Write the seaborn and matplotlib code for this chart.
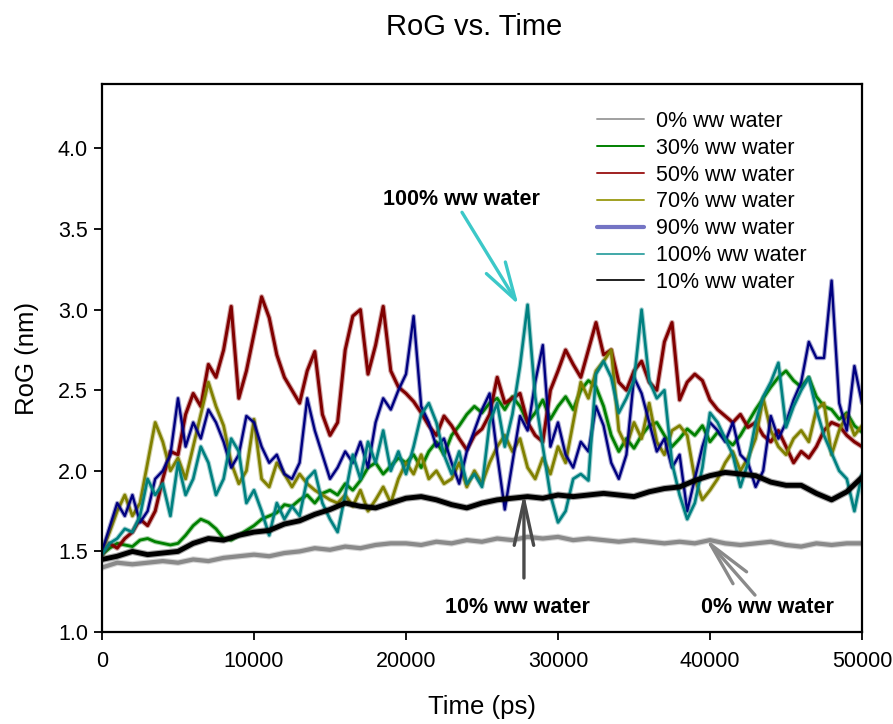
import matplotlib
matplotlib.use("Agg")
import matplotlib.pyplot as plt
import matplotlib.patheffects as pe
from matplotlib.lines import Line2D
import seaborn as sns

# Simulation time axes (ps)
time_fine = list(range(0, 50001, 500))
time_coarse = list(range(0, 50001, 1000))

# Radius of gyration (nm) for each water content
rog_0 = [1.40, 1.43, 1.42, 1.43, 1.44, 1.43, 1.45, 1.44, 1.46, 1.47,
         1.48, 1.47, 1.49, 1.50, 1.52, 1.51, 1.53, 1.52, 1.54, 1.55,
         1.55, 1.54, 1.56, 1.55, 1.57, 1.56, 1.58, 1.57, 1.59, 1.58,
         1.59, 1.57, 1.58, 1.57, 1.56, 1.57, 1.56, 1.55, 1.56, 1.55,
         1.57, 1.55, 1.54, 1.55, 1.56, 1.54, 1.53, 1.55, 1.54, 1.55,
         1.55]

rog_10 = [1.45, 1.47, 1.50, 1.48, 1.49, 1.50, 1.55, 1.58, 1.57, 1.60,
          1.62, 1.63, 1.67, 1.69, 1.73, 1.76, 1.80, 1.78, 1.77, 1.80,
          1.83, 1.84, 1.82, 1.79, 1.77, 1.80, 1.82, 1.83, 1.84, 1.83,
          1.85, 1.84, 1.85, 1.86, 1.85, 1.84, 1.87, 1.89, 1.90, 1.94,
          1.97, 1.99, 1.98, 1.97, 1.93, 1.91, 1.91, 1.86, 1.82, 1.87,
          1.96]

rog_30 = [1.48, 1.52, 1.55, 1.54, 1.53, 1.57, 1.58, 1.56, 1.55, 1.54,
          1.55, 1.60, 1.66, 1.70, 1.68, 1.64, 1.58, 1.57, 1.60, 1.63,
          1.66, 1.70, 1.72, 1.74, 1.79, 1.78, 1.82, 1.85, 1.80, 1.86,
          1.88, 1.85, 1.92, 1.88, 1.94, 2.02, 2.05, 1.98, 2.03, 2.08,
          2.05, 2.10, 2.02, 2.12, 2.18, 2.10, 2.22, 2.28, 2.35, 2.40,
          2.36, 2.42, 2.45, 2.38, 2.46, 2.40, 2.30, 2.36, 2.44, 2.32,
          2.40, 2.46, 2.38, 2.50, 2.56, 2.52, 2.40, 2.22, 2.12, 2.20,
          2.14, 2.22, 2.28, 2.30, 2.22, 2.15, 2.20, 2.26, 2.22, 2.28,
          2.18, 2.24, 2.20, 2.16, 2.22, 2.30, 2.38, 2.45, 2.52, 2.58,
          2.62, 2.56, 2.52, 2.58, 2.46, 2.40, 2.38, 2.32, 2.36, 2.28,
          2.24]

rog_50 = [1.48, 1.55, 1.52, 1.58, 1.62, 1.70, 1.66, 1.75, 1.95, 2.12,
          2.10, 2.35, 2.48, 2.40, 2.66, 2.58, 2.75, 3.02, 2.45, 2.62,
          2.85, 3.08, 2.95, 2.72, 2.58, 2.50, 2.42, 2.62, 2.74, 2.35,
          2.22, 2.30, 2.75, 2.96, 3.00, 2.60, 2.78, 3.02, 2.62, 2.52,
          2.48, 2.43, 2.36, 2.28, 2.22, 2.34, 2.28, 2.20, 2.13, 2.22,
          2.26, 2.35, 2.58, 2.42, 2.45, 2.48, 2.30, 2.22, 2.18, 2.50,
          2.62, 2.75, 2.66, 2.58, 2.75, 2.92, 2.72, 2.75, 2.55, 2.50,
          2.62, 2.68, 2.55, 2.50, 2.80, 2.92, 2.44, 2.55, 2.60, 2.56,
          2.44, 2.38, 2.34, 2.30, 2.35, 2.27, 2.30, 2.22, 2.18, 2.25,
          2.15, 2.05, 2.12, 2.08, 2.15, 2.25, 2.30, 2.28, 2.22, 2.18,
          2.15]

rog_70 = [1.50, 1.62, 1.75, 1.85, 1.72, 1.80, 2.05, 2.30, 2.18, 2.00,
          2.08, 1.95, 2.15, 2.35, 2.55, 2.40, 2.28, 2.05, 1.92, 2.00,
          2.32, 1.95, 1.90, 2.05, 1.98, 1.90, 1.98, 1.92, 1.88, 1.85,
          1.82, 1.80, 1.85, 1.78, 1.88, 1.75, 1.82, 1.90, 1.80, 1.95,
          2.05, 1.98, 2.10, 1.95, 2.00, 1.92, 1.95, 2.05, 1.90, 2.00,
          1.92, 2.05, 2.15, 2.22, 2.12, 2.20, 2.02, 1.95, 2.08, 1.98,
          2.15, 2.05, 2.30, 2.55, 2.45, 2.62, 2.68, 2.75, 2.25, 2.15,
          2.30, 2.20, 2.42, 2.18, 2.10, 2.25, 2.28, 2.22, 1.95, 1.82,
          1.88, 1.95, 2.05, 2.12, 2.00, 2.08, 2.20, 2.45, 2.25, 2.15,
          2.10, 2.20, 2.25, 2.18, 2.38, 2.42, 2.10, 2.25, 2.35, 2.22,
          2.28]

rog_90 = [1.50, 1.65, 1.80, 1.72, 1.85, 1.68, 1.75, 1.95, 2.00, 2.10,
          2.45, 2.15, 2.30, 2.20, 2.38, 2.30, 2.18, 2.02, 2.10, 2.34,
          2.30, 2.15, 2.05, 2.10, 1.98, 1.95, 2.05, 2.45, 2.25, 2.10,
          1.95, 2.02, 2.12, 2.05, 2.18, 2.02, 2.30, 2.45, 2.38, 2.50,
          2.60, 2.96, 2.40, 2.30, 2.15, 2.20, 2.05, 1.92, 2.12, 2.25,
          2.38, 2.48, 2.10, 1.76, 2.05, 2.34, 2.25, 2.55, 2.78, 2.15,
          2.30, 2.10, 2.02, 2.18, 2.12, 2.40, 2.28, 2.05, 1.95, 2.10,
          2.58, 2.48, 2.30, 2.12, 2.20, 2.02, 2.10, 1.75, 1.95, 2.15,
          2.30, 2.25, 2.18, 2.30, 2.10, 2.05, 1.90, 2.00, 2.34, 2.20,
          2.30, 2.44, 2.55, 2.80, 2.70, 2.70, 3.18, 2.42, 2.25, 2.65,
          2.42]

rog_100 = [1.48, 1.55, 1.58, 1.64, 1.62, 1.72, 1.95, 1.85, 1.92, 1.72,
           2.05, 1.85, 1.95, 2.15, 2.05, 1.85, 1.95, 2.20, 2.12, 1.80,
           1.88, 1.75, 1.60, 1.80, 1.70, 1.78, 1.72, 1.95, 2.00, 1.80,
           1.70, 1.62, 1.85, 2.10, 1.95, 2.18, 2.05, 2.25, 2.00, 2.12,
           1.98, 2.15, 2.35, 2.42, 2.30, 2.10, 1.98, 2.12, 1.92, 1.98,
           1.90, 2.30, 2.42, 2.15, 2.35, 2.65, 3.03, 2.46, 2.15, 1.85,
           1.68, 1.75, 1.95, 1.98, 1.94, 2.60, 2.68, 2.58, 2.36, 2.45,
           2.56, 3.00, 2.56, 2.45, 2.50, 2.05, 1.85, 1.70, 1.80, 2.02,
           2.36, 2.30, 2.20, 2.10, 1.90, 2.05, 2.30, 2.46, 2.55, 2.67,
           2.27, 2.40, 2.50, 2.58, 2.38, 2.22, 2.11, 2.00, 1.95, 1.75,
           1.98]

labels = ["0% ww water", "30% ww water", "50% ww water", "70% ww water",
          "90% ww water", "100% ww water", "10% ww water"]
colors = ["#8a8a8a", "#008000", "#800000", "#808000",
          "#000080", "#008080", "#000000"]
legend_colors = ["#a0a0a0", "#008000", "#a02020", "#a0a020",
                 "#7474c4", "#40a8a8", "#202020"]

x_ticks = [0, 10000, 20000, 30000, 40000, 50000]
y_ticks = [1.0, 1.5, 2.0, 2.5, 3.0, 3.5, 4.0]

series = [
    (time_coarse, rog_0, 3.0),
    (time_fine, rog_30, 2.0),
    (time_fine, rog_50, 2.2),
    (time_fine, rog_70, 2.0),
    (time_fine, rog_90, 1.7),
    (time_fine, rog_100, 1.9),
    (time_coarse, rog_10, 3.5),
]

sns.set_theme(style="ticks")
plt.rcParams["font.family"] = ["Liberation Sans", "DejaVu Sans"]
plt.rcParams["text.color"] = "black"
plt.rcParams["axes.labelcolor"] = "black"
plt.rcParams["xtick.color"] = "black"
plt.rcParams["ytick.color"] = "black"

fig = plt.figure(figsize=(8.93, 7.24), dpi=100)
ax = fig.add_axes([102 / 893, 1 - 632 / 724, 760 / 893, 548 / 724])

for (t, v, lw), col, lab in zip(series, colors, labels):
    sns.lineplot(x=t, y=v, ax=ax, color=col, lw=lw, estimator=None,
                 sort=False, legend=False,
                 path_effects=[pe.Stroke(linewidth=lw + 1.6, foreground=col,
                                         alpha=0.35),
                               pe.Normal()])

ax.set_xlim(0, 50000)
ax.set_ylim(1.0, 4.4)
ax.set_xticks(x_ticks)
ax.set_xticklabels([str(x) for x in x_ticks])
ax.set_yticks(y_ticks)
ax.set_yticklabels([f"{y:.1f}" for y in y_ticks])
ax.tick_params(axis="both", direction="out", length=6, width=1.3,
               colors="black", labelcolor="black", labelsize=15.5)
ax.tick_params(axis="x", pad=8)
ax.tick_params(axis="y", pad=4)
for sp in ax.spines.values():
    sp.set_visible(True)
    sp.set_linewidth(1.6)
    sp.set_color("black")
ax.set_xlabel("")
ax.set_ylabel("")

fig.text(482 / 893, 1 - 707 / 724, "Time (ps)", ha="center", va="center",
         fontsize=18.5, color="black")
fig.text(27 / 893, 1 - 358 / 724, "RoG (nm)", ha="center", va="center",
         rotation=90, fontsize=18.5, color="black")
fig.text(474 / 893, 1 - 27 / 724, "RoG vs. Time", ha="center", va="center",
         fontsize=21, color="black")

handles = []
for lab, col in zip(labels, legend_colors):
    lw = 3.0 if lab.startswith("90%") else 1.4
    handles.append(Line2D([], [], color=col, lw=lw))
leg = ax.legend(handles, labels, loc="upper left",
                bbox_to_anchor=(597 / 893, 1 - 111 / 724),
                bbox_transform=fig.transFigure, frameon=False, fontsize=15.5,
                handlelength=2.2, handletextpad=0.55, labelspacing=0.27,
                borderpad=0, borderaxespad=0)
for txt in leg.get_texts():
    txt.set_color("black")

# Callout labels with arrows
arrow_cyan = "#3cc8c8"
arrow_dark = "#4a4a4a"
arrow_gray = "#8a8a8a"

ax.text(23620, 3.684, "100% ww water", ha="center", va="center",
        fontsize=15.5, fontweight="bold", color="black")
ax.annotate("", xy=(27400, 3.03), xytext=(23684, 3.604),
            arrowprops=dict(arrowstyle="->,head_length=27,head_width=8",
                            mutation_scale=1, color=arrow_cyan, lw=2.4,
                            shrinkA=0, shrinkB=0, capstyle="round",
                            joinstyle="round"))

ax.text(27300, 1.155, "10% ww water", ha="center", va="center",
        fontsize=15.5, fontweight="bold", color="black")
ax.annotate("", xy=(27760, 1.862), xytext=(27760, 1.335),
            arrowprops=dict(arrowstyle="->,head_length=32,head_width=7",
                            mutation_scale=1, color=arrow_dark, lw=2.4,
                            shrinkA=0, shrinkB=0, capstyle="round",
                            joinstyle="round"))

ax.text(43750, 1.155, "0% ww water", ha="center", va="center",
        fontsize=15.5, fontweight="bold", color="black")
ax.annotate("", xy=(39670, 1.583), xytext=(42960, 1.229),
            arrowprops=dict(arrowstyle="->,head_length=32,head_width=6.5",
                            mutation_scale=1, color=arrow_gray, lw=2.4,
                            shrinkA=0, shrinkB=0, capstyle="round",
                            joinstyle="round"))

fig.savefig("out.png", dpi=100)
